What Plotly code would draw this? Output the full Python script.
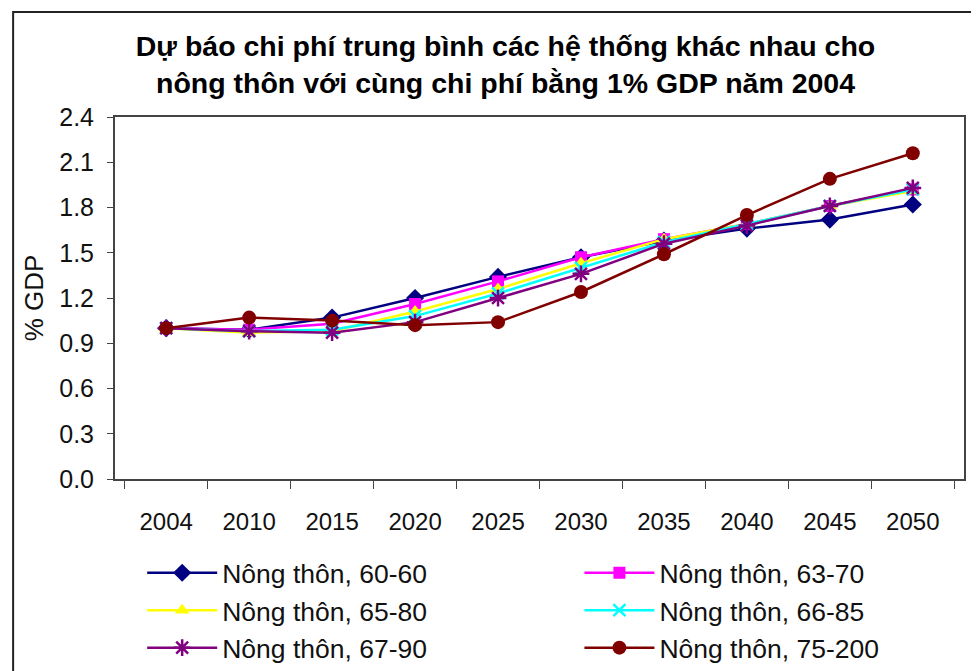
import plotly.graph_objects as go

years = ['2004', '2010', '2015', '2020', '2025', '2030', '2035', '2040', '2045', '2050']

nt_60_60 = [1.00, 0.99, 1.07, 1.20, 1.34, 1.47, 1.58, 1.66, 1.72, 1.82]
nt_63_70 = [1.00, 0.99, 1.03, 1.16, 1.31, 1.47, 1.59, 1.69, 1.81, 1.92]
nt_65_80 = [1.00, 0.97, 0.98, 1.11, 1.26, 1.43, 1.59, 1.69, 1.81, 1.91]
nt_66_85 = [1.00, 0.98, 0.99, 1.08, 1.23, 1.40, 1.57, 1.69, 1.81, 1.92]
nt_67_90 = [1.00, 0.98, 0.97, 1.04, 1.20, 1.36, 1.56, 1.68, 1.81, 1.93]
nt_75_200 = [1.00, 1.07, 1.05, 1.02, 1.04, 1.24, 1.49, 1.75, 1.99, 2.16]

y_ticks = [0.0, 0.3, 0.6, 0.9, 1.2, 1.5, 1.8, 2.1, 2.4]

# name, values, colour, marker, size, legend column
series = [
    ("Nông thôn, 60-60", nt_60_60, '#000080', 'diamond', 14, 'legend'),
    ("Nông thôn, 63-70", nt_63_70, '#FF00FF', 'square', 12, 'legend2'),
    ("Nông thôn, 65-80", nt_65_80, '#FFFF00', 'triangle-up', 13, 'legend'),
    ("Nông thôn, 66-85", nt_66_85, '#00FFFF', 'x-thin', 12, 'legend2'),
    ("Nông thôn, 67-90", nt_67_90, '#800080', 'asterisk', 14, 'legend'),
    ("Nông thôn, 75-200", nt_75_200, '#800000', 'circle', 14, 'legend2'),
]

fig = go.Figure()

for name, vals, col, sym, size, leg in series:
    fig.add_trace(go.Scatter(
        x=years, y=vals, name=name, mode='lines+markers', legend=leg,
        line=dict(color=col, width=2.5),
        marker=dict(symbol=sym, size=size, color=col,
                    line=dict(color=col, width=2.5 if sym in ('x-thin', 'asterisk') else 0)),
    ))

# legends positioned in container coords so they don't push the bottom margin
leg_style = dict(orientation='v', yanchor='top', xanchor='left', yref='container', y=0.184,
                 itemwidth=70, font=dict(size=26.5, color='#111111'),
                 bgcolor='rgba(0,0,0,0)', tracegroupgap=0)

# page body adds an 8px offset, so the figure is 8px smaller than the window
fig.update_layout(
    width=971, height=663,
    margin=dict(l=107, r=15, t=109, b=192),
    paper_bgcolor='white', plot_bgcolor='white',
    font=dict(family='Liberation Sans, Arial, sans-serif', color='#111111'),
    title=dict(
        text='<b>Dự báo chi phí trung bình các hệ thống khác nhau cho<br>nông thôn với cùng chi phí bằng 1% GDP năm 2004</b>',
        x=0.46, xref='paper', xanchor='center', y=0.928, yanchor='top',
        font=dict(size=28.5, color='#000000'),
    ),
    xaxis=dict(
        type='category', showgrid=False, showline=True, linecolor='#444444', linewidth=2,
        mirror=True, ticks='outside', ticklen=8, tickcolor='#444444', tickson='boundaries',
        tickfont=dict(size=24), ticklabelstandoff=20, automargin=False,
    ),
    yaxis=dict(
        range=[0, 2.4], tickvals=y_ticks, tickformat='.1f', showgrid=False, zeroline=False,
        showline=True, linecolor='#444444', linewidth=2, mirror=True,
        ticks='outside', ticklen=6, tickcolor='#444444', tickfont=dict(size=25),
        ticklabelstandoff=8, automargin=False,
        title=dict(text='% GDP', font=dict(size=26), standoff=8),
    ),
    legend=dict(x=0.032, **leg_style),
    legend2=dict(x=0.547, **leg_style),
    shapes=[dict(type='rect', xref='paper', yref='paper', x0=-0.12, x1=1.2, y0=-1.0, y1=1.29,
                 line=dict(color='#222222', width=2))],
)

fig.write_html("out.html")
